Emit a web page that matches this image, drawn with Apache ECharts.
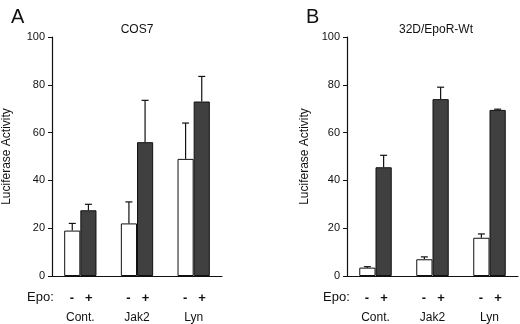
<!DOCTYPE html>
<html>
<head>
<meta charset="utf-8">
<script src="https://cdn.jsdelivr.net/npm/echarts@6/dist/echarts.min.js"></script>
<style>
  html, body { margin: 0; padding: 0; background: #fff; }
  #chart { width: 520px; height: 324px; }
</style>
</head>
<body>
<div id="chart"></div>
<script>
// values
let categories = ["Cont.", "Jak2", "Lyn"]

let cosMinus = [19, 22, 49]
let cosMinusSd = [3, 9, 15]
let cosPlus = [27.5, 56, 73]
let cosPlusSd = [2.5, 17.5, 10.5]

let wtMinus = [3.5, 7, 16]
let wtMinusSd = [0.4, 1, 1.6]
let wtPlus = [45.5, 74, 69.5]
let wtPlusSd = [5, 5, 0.3]

let barPct = 0.285
let font = "Liberation Sans, Arial, sans-serif"

function errData(vals, sds){
    return vals.map((v, i) => [i, v + sds[i], v])
}

function errSeries(idx, vals, sds, side){
    return {
        type: "custom",
        xAxisIndex: idx,
        yAxisIndex: idx,
        data: errData(vals, sds),
        z: 1,
        silent: true,
        renderItem: function(params, api){
            let top = api.coord([api.value(0), api.value(1)])
            let base = api.coord([api.value(0), api.value(2)])
            let off = api.size([1, 0])[0] * barPct / 2 * side
            let x = top[0] + off
            let cap = 3.5
            return {
                type: "group",
                children: [{
                    type: "line",
                    shape: { x1: x, y1: base[1], x2: x, y2: top[1] },
                    style: { stroke: "#111", lineWidth: 1.2 }
                }, {
                    type: "line",
                    shape: { x1: x - cap, y1: top[1], x2: x + cap, y2: top[1] },
                    style: { stroke: "#111", lineWidth: 1.2 }
                }]
            }
        }
    }
}

function barSeries(idx, vals, dark){
    return {
        type: "bar",
        xAxisIndex: idx,
        yAxisIndex: idx,
        data: vals,
        barWidth: (barPct * 100) + "%",
        barGap: "0%",
        z: 2,
        itemStyle: {
            color: dark ? "#404040" : "#ffffff",
            borderColor: "#111",
            borderWidth: 1
        },
        animation: false
    }
}

function xAxis(idx){
    return {
        type: "category",
        gridIndex: idx,
        data: categories,
        axisLine: { lineStyle: { color: "#111", width: 1.2 } },
        axisTick: { show: false },
        axisLabel: {
            interval: 0,
            margin: 12,
            formatter: function(v){
                return "{s|-}{s|+}\n{c|" + v + "}"
            },
            rich: {
                s: { width: 17, align: "center", fontSize: 13, fontWeight: "bold", color: "#111", fontFamily: font, lineHeight: 20 },
                c: { fontSize: 12, color: "#111", fontFamily: font, lineHeight: 18, padding: [2, 0, 0, 0] }
            }
        }
    }
}

function yAxis(idx, gap){
    return {
        type: "value",
        gridIndex: idx,
        min: 0,
        max: 100,
        interval: 20,
        name: "Luciferase Activity",
        nameLocation: "middle",
        nameGap: gap,
        nameTextStyle: { fontSize: 12, color: "#111", fontFamily: font },
        splitLine: { show: false },
        axisLine: { show: true, lineStyle: { color: "#111", width: 1.2 } },
        axisTick: { show: true, length: 4, lineStyle: { color: "#111" } },
        axisLabel: { margin: 7, fontSize: 11, color: "#111", fontFamily: font }
    }
}

let myChart = echarts.init(document.getElementById("chart"))
let option = {
    animation: false,
    backgroundColor: "#fff",
    title: [
        { text: "A", left: 6, top: 2, textStyle: { fontSize: 20, fontWeight: "normal", color: "#111", fontFamily: font } },
        { text: "COS7", left: 132, top: 19, textAlign: "center", textStyle: { fontSize: 12, fontWeight: "normal", color: "#111", fontFamily: font } },
        { text: "B", left: 301, top: 2, textStyle: { fontSize: 20, fontWeight: "normal", color: "#111", fontFamily: font } },
        { text: "32D/EpoR-Wt", left: 431, top: 19, textAlign: "center", textStyle: { fontSize: 12, fontWeight: "normal", color: "#111", fontFamily: font } }
    ],
    graphic: [
        { type: "text", left: 27, top: 291, style: { text: "Epo:", fontSize: 13, fill: "#111", fontFamily: font } },
        { type: "text", left: 323, top: 291, style: { text: "Epo:", fontSize: 13, fill: "#111", fontFamily: font } }
    ],
    grid: [
        { left: 48, right: 298, top: 37, bottom: 44 },
        { left: 347, right: 2, top: 37, bottom: 44 }
    ],
    xAxis: [xAxis(0), xAxis(1)],
    yAxis: [yAxis(0, 39), yAxis(1, 36)],
    series: [
        barSeries(0, cosMinus, false),
        barSeries(0, cosPlus, true),
        errSeries(0, cosMinus, cosMinusSd, -1),
        errSeries(0, cosPlus, cosPlusSd, 1),
        barSeries(1, wtMinus, false),
        barSeries(1, wtPlus, true),
        errSeries(1, wtMinus, wtMinusSd, -1),
        errSeries(1, wtPlus, wtPlusSd, 1)
    ]
}
myChart.setOption(option)
</script>
</body>
</html>
